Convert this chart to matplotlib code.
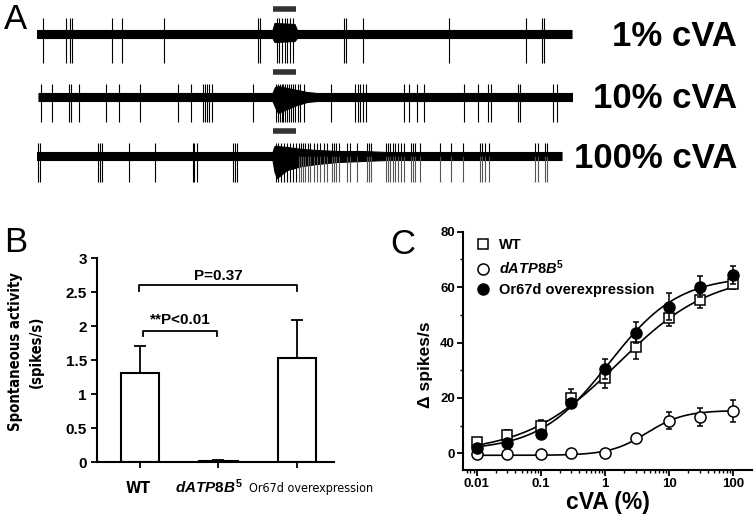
import numpy as np
import matplotlib

matplotlib.use("Agg")
import matplotlib.pyplot as plt
from matplotlib import font_manager
from matplotlib.font_manager import FontProperties
from matplotlib.lines import Line2D
from matplotlib.ticker import LogLocator, MultipleLocator, NullFormatter
from matplotlib.transforms import blended_transform_factory

W, H = 756, 523

# ---------------- panel A: single sensillum recordings ----------------
# time in s (0.02 s per pixel of the original trace), amplitude in a.u.
trace_start = [0.0, 0.03, 0.0]
trace_end = [10.69, 10.71, 10.49]
stim_on, stim_off = 4.71, 5.18
conc_labels = ["1% cVA", "10% cVA", "100% cVA"]

spikes_1 = [0.11, 0.58, 0.65, 0.70, 1.49, 1.69, 2.53, 4.42, 4.46,
            4.79, 4.84, 4.90, 4.96, 5.00, 5.06, 5.12,
            6.13, 6.17, 6.51, 8.24, 9.78, 10.10, 10.13]
spikes_2 = [0.07, 0.29, 0.64, 0.67, 0.83, 1.38, 1.63, 2.05, 2.81, 3.08,
            3.32, 3.36, 3.39, 3.43, 3.49, 4.31,
            4.78, 4.82, 4.86, 4.90, 4.92, 4.96, 5.00, 5.04, 5.08, 5.12,
            5.16, 5.22, 5.26, 5.34,
            5.88, 6.36, 6.41, 6.46, 6.51, 6.58, 7.33, 7.43, 7.59, 7.74,
            8.53, 8.82, 9.01, 9.07, 9.62, 9.65, 10.31, 10.40]
spikes_3_pre = [0.01, 0.06, 1.21, 1.25, 1.29, 1.84, 2.35, 3.11, 3.14, 3.19,
                3.91, 3.95, 3.99,
                4.78, 4.82, 4.88, 4.94, 5.00, 5.06, 5.12, 5.18]
spikes_3_post = [5.23, 5.27, 5.31, 5.36, 5.41, 5.46, 5.53, 5.59, 5.65, 5.73,
                 5.79, 5.89, 5.93, 5.98, 6.03, 6.19, 6.26, 6.39, 6.59, 6.63,
                 6.67, 6.98, 7.01, 7.06, 7.11, 7.16, 7.21, 7.27, 7.34, 7.47,
                 7.51, 7.56, 7.66, 8.06, 8.27, 8.51, 8.85, 8.90, 8.96, 9.03,
                 9.96, 10.01, 10.16, 10.19]
spike_down = [-29, -25, -26]
spike_up = [16, 13, 13]

# baseline noise envelope (time, low, high)
env1_t = [0.0, 4.71, 4.75, 5.15, 5.20, 10.69]
env1_lo = [-4, -4, -8, -7, -4, -4]
env1_hi = [4, 4, 11, 10, 4, 4]
env2_t = [0.03, 4.71, 4.76, 4.82, 5.00, 5.20, 5.40, 5.60, 10.71]
env2_lo = [-4, -4, -10, -16, -12, -8, -5, -4, -4]
env2_hi = [4, 4, 10, 11, 9, 7, 5, 4, 4]
env3_t = [0.0, 4.71, 4.75, 4.80, 5.00, 5.30, 5.60, 6.00, 6.50, 7.00, 10.49]
env3_lo = [-4, -4, -16, -22, -14, -10, -8, -6, -5, -4, -4]
env3_hi = [4, 4, 10, 10, 9, 7, 6, 5, 5, 4, 4]

# ---------------- panel B: spontaneous activity ----------------
groups_b = ["WT", r"$\mathit{dATP8B}^{\mathit{5}}$", "Or67d overexpression"]
spont_mean = [1.32, 0.015, 1.53]
spont_sem = [0.39, 0.015, 0.57]

# ---------------- panel C: dose response ----------------
cva_conc = [0.01, 0.03, 0.1, 0.3, 1, 3, 10, 30, 100]
wt_resp = [4.2, 6.7, 10.0, 20.0, 27.3, 38.5, 48.7, 55.2, 61.0]
wt_err = [1.5, 1.8, 2.0, 3.3, 3.7, 4.3, 2.9, 2.8, 1.8]
mut_resp = [-0.3, -0.4, -0.4, 0.0, 0.0, 5.6, 11.8, 13.1, 15.4]
mut_err = [0.8, 0.9, 1.0, 0.6, 0.6, 1.0, 3.0, 3.2, 3.9]
or67d_resp = [1.9, 3.6, 7.0, 18.2, 30.5, 43.6, 53.0, 60.2, 64.5]
or67d_err = [1.0, 1.2, 1.3, 1.5, 3.7, 3.7, 4.7, 3.9, 3.2]
# Hill fits: bottom, top, EC50 (%), slope
fit_wt = (0.0, 65.0, 1.6, 0.6)
fit_mut = (-0.7, 15.5, 4.5, 1.5)
fit_or67d = (1.0, 64.0, 1.15, 0.8)


def hill(x, bottom, top, ec50, slope):
    return bottom + (top - bottom) / (1 + 10 ** ((np.log10(ec50) - np.log10(x)) * slope))


def px_axes(fig, x0, y0, x1, y1):
    return fig.add_axes([x0 / W, 1 - y1 / H, (x1 - x0) / W, (y1 - y0) / H])


def narrow_font(bold, size):
    # look for an installed condensed / narrow face, else the normal one
    for f in font_manager.fontManager.ttflist:
        cond = ("Narrow" in f.name or "Condensed" in f.name
                or f.stretch in ("condensed", "semi-condensed"))
        if not cond or f.style != "normal":
            continue
        w = f.weight if isinstance(f.weight, int) else (700 if "bold" in str(f.weight) else 400)
        if (w >= 600) == bold:
            return FontProperties(fname=f.fname, size=size)
    return FontProperties(family="Liberation Sans", weight="bold" if bold else "normal", size=size)


def fit_to(fig, text, target_px, vertical=False):
    # scale a text so that it spans about target_px pixels
    fig.canvas.draw()
    bb = text.get_window_extent(fig.canvas.get_renderer())
    cur = bb.height if vertical else bb.width
    text.set_fontsize(text.get_fontsize() * target_px / cur)


plt.rcParams["font.family"] = ["Liberation Sans", "DejaVu Sans"]
plt.rcParams["mathtext.fontset"] = "custom"
plt.rcParams["mathtext.it"] = "Liberation Sans:italic:bold"
plt.rcParams["mathtext.rm"] = "Liberation Sans:bold"
plt.rcParams["mathtext.bf"] = "Liberation Sans:bold"

fig = plt.figure(figsize=(W / 100, H / 100), dpi=100)

# ---- A ----
bases = [34, 97, 156]
envs = [(env1_t, env1_lo, env1_hi), (env2_t, env2_lo, env2_hi), (env3_t, env3_lo, env3_hi)]
spike_sets = [[spikes_1], [spikes_2], [spikes_3_pre, spikes_3_post]]
for i, base in enumerate(bases):
    ax = px_axes(fig, 37, base - 30, 572, base + 36)
    ax.set_xlim(0, 10.7)
    ax.set_ylim(-36, 30)
    ax.axis("off")
    et, lo, hi = envs[i]
    ax.fill_between(et, lo, hi, color="black", lw=0.8)
    for k, spk in enumerate(spike_sets[i]):
        col = "#555555" if k == 1 else "black"
        ax.vlines(spk, spike_down[i], 0, color=col, lw=0.8)
        ax.vlines(spk, 0, spike_up[i], color="black", lw=0.8)
    ax.hlines(25, stim_on, stim_off, color="#333333", lw=4)
    fig.text(737 / W, 1 - (base + 2) / H, conc_labels[i], ha="right", va="center",
             fontsize=25, weight="bold")

# ---- B ----
axb = px_axes(fig, 96.7, 258.3, 334.3, 462.3)
xb = np.arange(len(groups_b))
axb.bar(xb, spont_mean, width=0.49, color="white", edgecolor="black", linewidth=1.5, zorder=2)
axb.errorbar(xb, spont_mean, yerr=[np.zeros(len(xb)), spont_sem], fmt="none", ecolor="black",
             elinewidth=1.3, capsize=4, capthick=1.3, zorder=3)
axb.set_xlim(-0.553, 2.48)
axb.set_ylim(0, 3)
for s in ["top", "right"]:
    axb.spines[s].set_visible(False)
for s in ["left", "bottom"]:
    axb.spines[s].set_linewidth(1.5)
yt = np.arange(0, 3.01, 0.5)
axb.set_yticks(yt)
axb.set_yticklabels(["%g" % v for v in yt], fontsize=11, weight="bold")
axb.set_xticks(xb)
axb.set_xticklabels([])
axb.tick_params(axis="x", length=4, width=1.3)
axb.tick_params(axis="y", length=4, width=1.3, pad=3)

trb = blended_transform_factory(axb.transData, axb.transAxes)
lab_wt = axb.text(xb[0] - 0.03, -0.127, groups_b[0], transform=trb, ha="center", va="center",
                  fontproperties=narrow_font(True, 11))
lab_mut = axb.text(xb[1] - 0.12, -0.122, groups_b[1], transform=trb, ha="center", va="center",
                   fontsize=11)
lab_or = axb.text(xb[2] + 0.18, -0.127, groups_b[2], transform=trb, ha="center", va="center",
                  fontproperties=narrow_font(False, 11))
fit_to(fig, lab_wt, 25)
fit_to(fig, lab_mut, 68)
fit_to(fig, lab_or, 124)


def bracket(ax, i, j, h, drop, label, ty, tx):
    ax.plot([i, i, j, j], [h - drop, h, h, h - drop], color="black", lw=1.3, clip_on=False)
    ax.text(tx, ty, label, ha="center", va="center", fontsize=11, weight="bold")


bracket(axb, -0.01, 2.01, 2.607, 0.09, "P=0.37", 2.74, 1.0)
bracket(axb, 0.035, 0.98, 1.935, 0.08, "**P<0.01", 2.10, 0.51)

ylab_b = fig.text(26 / W, 1 - 352 / H, "Spontaneous activity\n(spikes/s)", rotation=90,
                  ha="center", va="center", linespacing=1.55,
                  fontproperties=narrow_font(True, 12), multialignment="center")
fit_to(fig, ylab_b, 158, vertical=True)

# ---- C ----
axc = px_axes(fig, 463.3, 231.7, 751.7, 470)
axc.set_xscale("log")
xfit = np.logspace(-2, 2, 300)
for p in (fit_wt, fit_mut, fit_or67d):
    axc.plot(xfit, hill(xfit, *p), color="black", lw=1.2, zorder=2)
axc.errorbar(cva_conc, wt_resp, yerr=wt_err, fmt="s", ms=7, mfc="white", mec="black", mew=1.1,
             ecolor="black", elinewidth=1.1, capsize=2.5, capthick=1.1, zorder=4)
axc.errorbar(cva_conc, mut_resp, yerr=mut_err, fmt="o", ms=8, mfc="white", mec="black", mew=1.1,
             ecolor="black", elinewidth=1.1, capsize=2.5, capthick=1.1, zorder=4)
axc.errorbar(cva_conc, or67d_resp, yerr=or67d_err, fmt="o", ms=8, mfc="black", mec="black",
             ecolor="black", elinewidth=1.1, capsize=2.5, capthick=1.1, zorder=5)
axc.set_xlim(0.00618, 193.6)
axc.set_ylim(-6, 80)
for s in ["top", "right"]:
    axc.spines[s].set_visible(False)
for s in ["left", "bottom"]:
    axc.spines[s].set_linewidth(1.5)
axc.set_xticks([0.01, 0.1, 1, 10, 100])
axc.set_xticklabels(["0.01", "0.1", "1", "10", "100"], fontsize=9.5, weight="bold")
axc.xaxis.set_minor_locator(LogLocator(base=10, subs=np.arange(2, 10), numticks=12))
axc.xaxis.set_minor_formatter(NullFormatter())
axc.set_yticks([0, 20, 40, 60, 80])
axc.set_yticklabels(["0", "20", "40", "60", "80"], fontsize=9.5, weight="bold")
axc.yaxis.set_minor_locator(MultipleLocator(10))
axc.tick_params(which="major", length=4, width=1.3, pad=2)
axc.tick_params(which="minor", length=2.5, width=1.0)

handles = [
    Line2D([], [], ls="none", marker="s", ms=7, mfc="white", mec="black", mew=1.1),
    Line2D([], [], ls="none", marker="o", ms=8, mfc="white", mec="black", mew=1.1),
    Line2D([], [], ls="none", marker="o", ms=8, mfc="black", mec="black"),
]
axc.legend(handles, ["WT", groups_b[1], "Or67d overexpression"],
           loc="upper left", bbox_to_anchor=(0.048, 0.975), frameon=False, handlelength=0.8,
           handletextpad=0.7, labelspacing=0.45, borderaxespad=0, borderpad=0,
           prop={"size": 10.5, "weight": "bold"})

fig.text(425 / W, 1 - 365 / H, "Δ spikes/s", rotation=90, ha="center", va="center",
         fontsize=12.5, weight="bold")
fig.text(608 / W, 1 - 503 / H, "cVA (%)", ha="center", va="center", fontsize=16.5, weight="bold")

# panel letters
fig.text(4 / W, 1 - 3 / H, "A", ha="left", va="top", fontsize=25)
fig.text(4 / W, 1 - 226 / H, "B", ha="left", va="top", fontsize=25)
fig.text(390 / W, 1 - 228 / H, "C", ha="left", va="top", fontsize=25)

fig.savefig("out.png", dpi=100)
